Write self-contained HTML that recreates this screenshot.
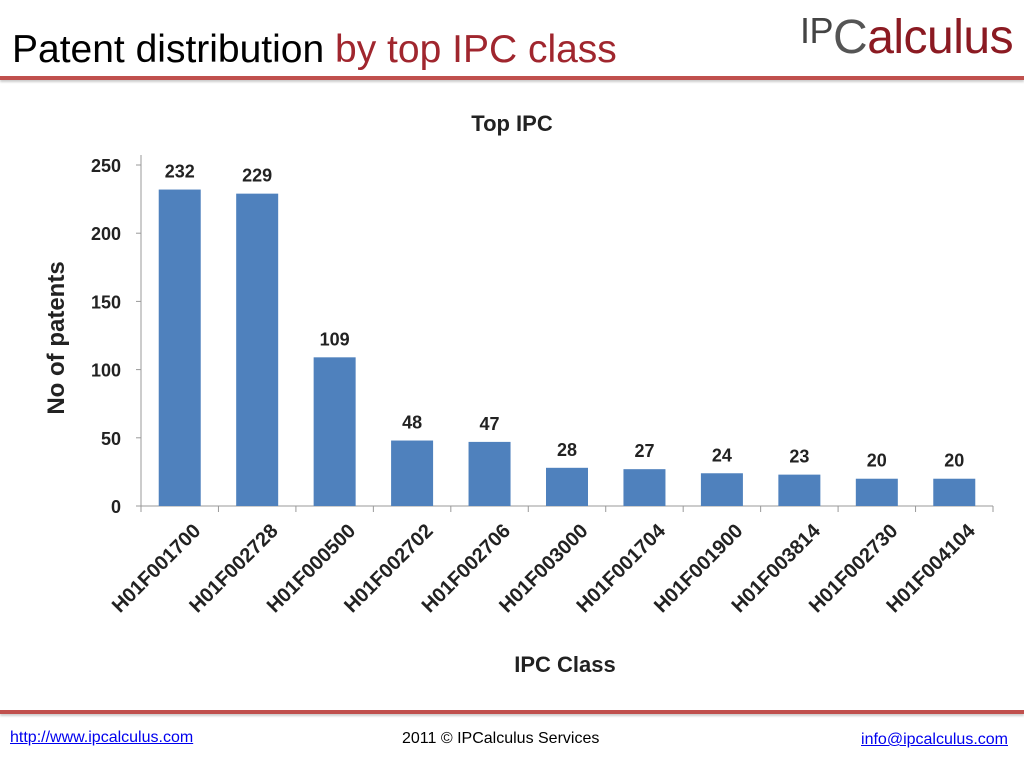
<!DOCTYPE html>
<html><head><meta charset="utf-8"><style>
body{margin:0;width:1024px;height:768px;background:#fff;overflow:hidden;position:relative;font-family:"Liberation Sans",sans-serif}
.t{position:absolute;left:12px;top:28px;font-size:39px;color:#000}
.t span{color:#a0262e}
</style></head><body>
<div class="t">Patent distribution <span>by top IPC class</span></div>
<div style="position:absolute;left:800px;top:10px;font-size:48px;color:#8b1a22;letter-spacing:-0.5px"><span style="color:#444;font-size:36px;vertical-align:10px">IP</span><span style="color:#555">C</span>alculus</div>
<div style="position:absolute;left:0;top:76px;width:1024px;height:4px;background:#c0504d;box-shadow:0 2px 2px #ccc"></div>
<div style="position:absolute;left:0;top:710px;width:1024px;height:4px;background:#c0504d;box-shadow:0 2px 2px #ccc"></div>
<a style="position:absolute;left:10px;top:729px;font-size:16px;color:#0000ee;text-decoration:underline">http://www.ipcalculus.com</a>
<div style="position:absolute;left:402px;top:730px;font-size:16px">2011 © IPCalculus Services</div>
<a style="position:absolute;right:16px;top:731px;font-size:16px;color:#0000ee;text-decoration:underline">info@ipcalculus.com</a>
<svg id="c" width="1024" height="768" style="position:absolute;left:0;top:0" font-family="Liberation Sans, sans-serif" font-weight="bold"></svg>
<script>
const categories=["H01F001700","H01F002728","H01F000500","H01F002702","H01F002706","H01F003000","H01F001704","H01F001900","H01F003814","H01F002730","H01F004104"];
const values=[232,229,109,48,47,28,27,24,23,20,20];
const yTicks=[0,50,100,150,200,250];
const svg=document.getElementById('c');const NS='http://www.w3.org/2000/svg';
const x0=141,x1=993,y0=506,y1=165,ymax=250;
const pitch=(x1-x0)/categories.length;
const Y=v=>y0-(v/ymax)*(y0-y1);
const X=i=>x0+pitch*(i+0.5);
function mk(t,a,txt){const e=document.createElementNS(NS,t);for(const k in a)e.setAttribute(k,a[k]);if(txt!=null)e.textContent=txt;svg.appendChild(e);return e;}
let e;
e=mk('text',{x:512,y:131,'text-anchor':'middle','font-size':22,fill:'#222'},'Top IPC');


e=mk('line',{x1:x0,y1:y1-10,x2:x0,y2:y0,stroke:'#999'});


e=mk('line',{x1:x0-5,y1:y0,x2:x1,y2:y0,stroke:'#999'});


yTicks.forEach(v=>{
 mk('line',{x1:x0-5,y1:Y(v),x2:x0,y2:Y(v),stroke:'#999'});
 e=mk('text',{x:x0-20,y:Y(v)+7,'text-anchor':'end','font-size':18,fill:'#222'},v);
 
 
});
for(let i=0;i<=categories.length;i++)mk('line',{x1:x0+pitch*i,y1:y0,x2:x0+pitch*i,y2:y0+6,stroke:'#999'});
categories.forEach((c,i)=>{
 const v=values[i],cx=X(i);
 e=mk('rect',{x:cx-21,y:Y(v),width:42,height:y0-Y(v),fill:'#4f81bd'});
 
 
 e=mk('text',{x:cx,y:Y(v)-12,'text-anchor':'middle','font-size':18,fill:'#222'},v);
 
 
 e=mk('text',{x:cx+22,y:532,'text-anchor':'end','font-size':20,fill:'#222',transform:`rotate(-45 ${cx+22} 532)`},c);
 
 
});
e=mk('text',{x:565,y:672,'text-anchor':'middle','font-size':22,fill:'#222'},'IPC Class');


e=mk('text',{x:64,y:338,'text-anchor':'middle','font-size':24,fill:'#222',transform:'rotate(-90 64 338)'},'No of patents');


</script>
</body></html>
